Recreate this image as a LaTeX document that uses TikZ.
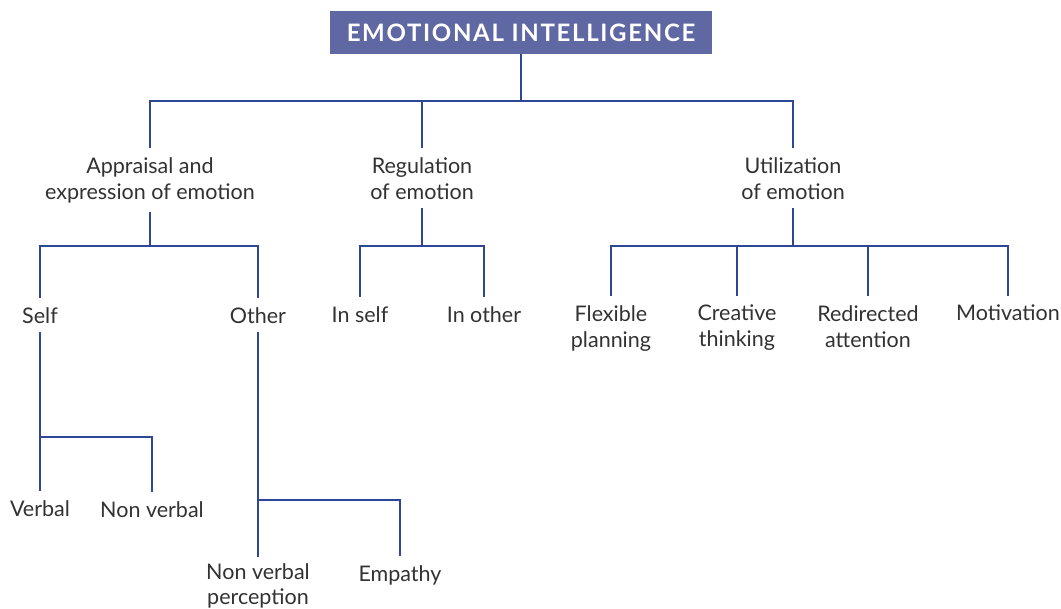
\documentclass[tikz,border=0pt]{standalone}
\usepackage{fontspec}
\setmainfont{Lato}
\definecolor{linec}{RGB}{46,70,150}
\definecolor{titlec}{RGB}{96,104,164}
\definecolor{textc}{RGB}{50,50,50}
\begin{document}
\begin{tikzpicture}[x=1pt,y=-1pt,
  lbl/.style={anchor=north,align=center,inner xsep=0pt,inner ysep=9pt,text=textc,font=\fontsize{21.5}{26}\selectfont},
  conn/.style={draw=linec,line width=2.2pt}]
\useasboundingbox (0,0) rectangle (1061,609);
\node[fill=titlec,text=white,minimum width=382pt,minimum height=43pt,inner sep=0pt,font=\bfseries\fontsize{24}{26}\selectfont\addfontfeature{LetterSpace=7}] (title) at (521,32.5) {EMOTIONAL INTELLIGENCE};
\node[lbl] (app) at (150,148) {Appraisal and\\expression of emotion};
\node[lbl] (reg) at (422,148) {Regulation\\of emotion};
\node[lbl] (util) at (793,148) {Utilization\\of emotion};
\node[lbl] (self) at (40,298) {Self};
\node[lbl] (other) at (258,298) {Other};
\node[lbl] (inself) at (360,297) {In self};
\node[lbl] (inother) at (484,297) {In other};
\node[lbl] (flex) at (611,296) {Flexible\\planning};
\node[lbl] (crea) at (737,296) {Creative\\thinking};
\node[lbl] (redi) at (868,296) {Redirected\\attention};
\node[lbl] (moti) at (1008,296) {Motivation};
\node[lbl] (verbal) at (40,491) {Verbal};
\node[lbl] (nonverbal) at (152,492) {Non verbal};
\node[lbl,inner ysep=6.5pt,font=\fontsize{21.5}{24.5}\selectfont] (nvp) at (258,557) {Non verbal\\perception};
\node[lbl] (emp) at (400,556) {Empathy};
\coordinate (j0) at (521,101);
\coordinate (j1) at (150,246);
\coordinate (j2) at (422,246);
\coordinate (j3) at (793,246);
\coordinate (js) at (40,437);
\coordinate (jo) at (258,500);
\draw[conn] (title.south) -- (j0);
\draw[conn] (app.north) |- (j0) -| (util.north);
\draw[conn] (reg.north) -- (reg.north |- j0);
\draw[conn] (app.south) -- (j1);
\draw[conn] (self.north) |- (j1) -| (other.north);
\draw[conn] (reg.south) -- (j2);
\draw[conn] (inself.north) |- (j2) -| (inother.north);
\draw[conn] (util.south) -- (j3);
\draw[conn] (flex.north) |- (j3) -| (moti.north);
\draw[conn] (crea.north) -- (crea.north |- j3);
\draw[conn] (redi.north) -- (redi.north |- j3);
\draw[conn] (self.south) -- (verbal.north);
\draw[conn] (js) -| (nonverbal.north);
\draw[conn] (other.south) -- (nvp.north);
\draw[conn] (jo) -| (emp.north);
\end{tikzpicture}
\end{document}
